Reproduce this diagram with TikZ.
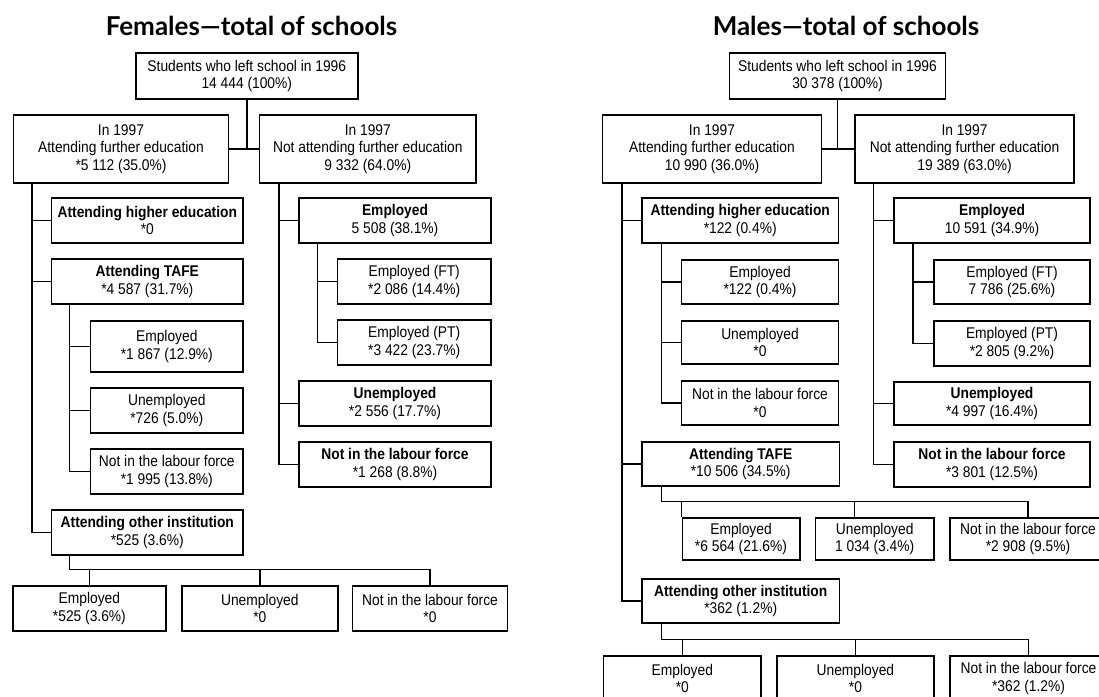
\documentclass[tikz,border=0pt]{standalone}
\usepackage{fontspec}
\setmainfont{Liberation Sans}[FakeStretch=0.89]
\newfontfamily\headfont{Lato}
\newcommand\cellfont{\fontsize{15.5}{17.5}\selectfont}
\tikzset{
  box/.style = {draw, line width=1.5pt, align=center, inner sep=0pt, font=\cellfont},
  sz/.style 2 args = {minimum width=#1pt, minimum height=#2pt},
  head/.style = {anchor=base, font=\headfont\bfseries\fontsize{26}{30}\selectfont},
  link/.style = {line width=1.5pt},
}

\begin{document}
\begin{tikzpicture}[x=1pt, y=-1pt]
\useasboundingbox (0,0) rectangle (1099,696);
\clip (0,0) rectangle (1099,696);

% females
\node[head] (fTitle) at (251.5,35) {Females—total of schools};
\node[box, sz={222}{46}] (fTop) at (246.8,76) {Students who left school in 1996\\14 444 (100\%)};
\node[box, sz={215}{68}] (fAtt) at (121,149) {In 1997\\Attending further education\\*5 112 (35.0\%)};
\node[box, sz={216.5}{68}] (fNot) at (367.8,149) {In 1997\\Not attending further education\\9 332 (64.0\%)};
\node[box, sz={191.5}{45}] (fHigh) at (147.3,220.5) {\textbf{Attending higher education}\\*0};
\node[box, sz={191.5}{45}] (fTafe) at (147.3,281.5) {\textbf{Attending TAFE}\\*4 587 (31.7\%)};
\node[box, sz={152.6}{51}] (fTE) at (166.8,346.5) {Employed\\*1 867 (12.9\%)};
\node[box, sz={152.6}{45}] (fTU) at (166.8,410.5) {Unemployed\\*726 (5.0\%)};
\node[box, sz={152.6}{45}] (fTN) at (166.8,471.5) {Not in the labour force\\*1 995 (13.8\%)};
\node[box, sz={191.5}{45}] (fOth) at (147.3,532.5) {\textbf{Attending other institution}\\*525 (3.6\%)};
\node[box, sz={153}{45}] (fOE) at (89.4,608.5) {Employed\\*525 (3.6\%)};
\node[box, sz={156}{45}] (fOU) at (259.8,608.5) {Unemployed\\*0};
\node[box, sz={155}{45}] (fON) at (430,608.5) {Not in the labour force\\*0};
\node[box, sz={192}{45}] (fNE) at (395,220.5) {\textbf{Employed}\\5 508 (38.1\%)};
\node[box, sz={153.7}{45}] (fNEF) at (414.2,281.5) {Employed (FT)\\*2 086 (14.4\%)};
\node[box, sz={153.7}{45}] (fNEP) at (414.2,342.5) {Employed (PT)\\*3 422 (23.7\%)};
\node[box, sz={192}{45}] (fNU) at (395,403.5) {\textbf{Unemployed}\\*2 556 (17.7\%)};
\node[box, sz={192}{45}] (fNN) at (395,464.5) {\textbf{Not in the labour force}\\*1 268 (8.8\%)};

\draw[link] (fTop.south) |- (fAtt.east);
\draw[link] (fTop.south) |- (fNot.west);
\foreach \k in {fHigh,fTafe,fOth} \draw[link] ([xshift=19pt]fAtt.south west) |- (\k.west);
\foreach \k in {fTE,fTU,fTN} \draw[link] ([xshift=18.6pt]fTafe.south west) |- (\k.west);
\foreach \k in {fNE,fNU,fNN} \draw[link] ([xshift=20pt]fNot.south west) |- (\k.west);
\foreach \k in {fNEF,fNEP} \draw[link] ([xshift=19.3pt]fNE.south west) |- (\k.west);
\draw[link] ([xshift=18.6pt]fOth.south west) |- ([yshift=16pt]fON.north) -- (fON.north);
\draw[link] (fOE.north) -- ++(0,-16);
\draw[link] (fOU.north) -- ++(0,-16);

% males
\node[head] (mTitle) at (846,35) {Males—total of schools};
\node[box, sz={216}{46}] (mTop) at (837.5,76) {Students who left school in 1996\\30 378 (100\%)};
\node[box, sz={219}{68}] (mAtt) at (712,149) {In 1997\\Attending further education\\10 990 (36.0\%)};
\node[box, sz={219}{68}] (mNot) at (964.5,149) {In 1997\\Not attending further education\\19 389 (63.0\%)};
\node[box, sz={196.4}{45}] (mHigh) at (740.2,220.5) {\textbf{Attending higher education}\\*122 (0.4\%)};
\node[box, sz={156.8}{44}] (mHE) at (760,282) {Employed\\*122 (0.4\%)};
\node[box, sz={156.8}{43}] (mHU) at (760,342.5) {Unemployed\\*0};
\node[box, sz={156.8}{44}] (mHN) at (760,403) {Not in the labour force\\*0};
\node[box, sz={197.4}{44}] (mTafe) at (740.7,464) {\textbf{Attending TAFE}\\*10 506 (34.5\%)};
\node[box, sz={117.5}{42}] (mTE) at (741,539) {Employed\\*6 564 (21.6\%)};
\node[box, sz={118.2}{42}] (mTU) at (874.7,539) {Unemployed\\1 034 (3.4\%)};
\node[box, sz={156}{42}] (mTN) at (1028,539) {Not in the labour force\\*2 908 (9.5\%)};
\node[box, sz={197.4}{44}] (mOth) at (740.7,601) {\textbf{Attending other institution}\\*362 (1.2\%)};
\node[box, sz={157.8}{45}] (mOE) at (682.3,678.5) {Employed\\*0};
\node[box, sz={156.8}{45}] (mOU) at (855.4,678.5) {Unemployed\\*0};
\node[box, sz={157}{45}] (mON) at (1028.5,678.5) {Not in the labour force\\*362 (1.2\%)};
\node[box, sz={196.4}{45}] (mNE) at (992,220.5) {\textbf{Employed}\\10 591 (34.9\%)};
\node[box, sz={156.4}{44}] (mNEF) at (1012,282) {Employed (FT)\\7 786 (25.6\%)};
\node[box, sz={156.4}{45}] (mNEP) at (1012,343.5) {Employed (PT)\\*2 805 (9.2\%)};
\node[box, sz={196.4}{43}] (mNU) at (992,403.5) {\textbf{Unemployed}\\*4 997 (16.4\%)};
\node[box, sz={195.7}{45}] (mNN) at (992,464.5) {\textbf{Not in the labour force}\\*3 801 (12.5\%)};

\draw[link] (mTop.south) |- (mAtt.east);
\draw[link] (mTop.south) |- (mNot.west);
\foreach \k in {mHigh,mTafe,mOth} \draw[link] ([xshift=20pt]mAtt.south west) |- (\k.west);
\foreach \k in {mHE,mHU,mHN} \draw[link] ([xshift=20pt]mHigh.south west) |- (\k.west);
\foreach \k in {mNE,mNU,mNN} \draw[link] ([xshift=19.3pt]mNot.south west) |- (\k.west);
\foreach \k in {mNEF,mNEP} \draw[link] ([xshift=20pt]mNE.south west) |- (\k.west);
\draw[link] ([xshift=20pt]mTafe.south west) |- ([yshift=16pt]mTN.north) -- (mTN.north);
\draw[link] (mTE.north west) -- ++(0,-16);
\draw[link] ([xshift=39.6pt]mTU.north west) -- ++(0,-16);
\draw[link] ([xshift=20pt]mOth.south west) |- ([yshift=16pt]mON.north) -- (mON.north);
\draw[link] (mOE.north) -- ++(0,-16);
\draw[link] (mOU.north) -- ++(0,-16);
\end{tikzpicture}
\end{document}
